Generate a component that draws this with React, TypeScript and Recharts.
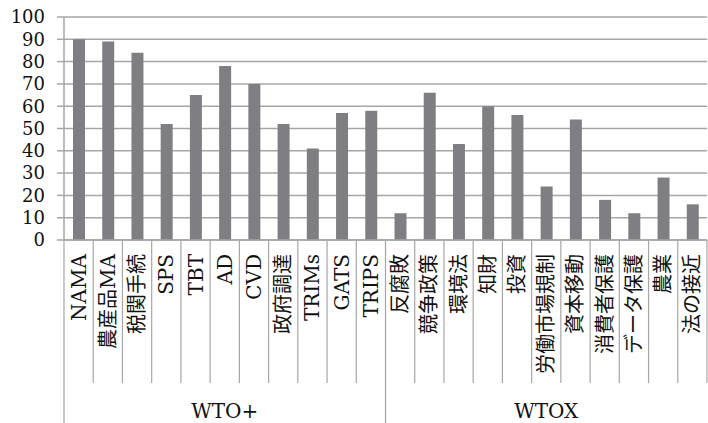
import React from 'react';
import { BarChart, Bar, XAxis, YAxis, CartesianGrid } from 'recharts';

const categories = [
  'NAMA', '農産品MA', '税関手続', 'SPS', 'TBT', 'AD', 'CVD', '政府調達', 'TRIMs', 'GATS', 'TRIPS',
  '反腐敗', '競争政策', '環境法', '知財', '投資', '労働市場規制', '資本移動', '消費者保護', 'データ保護', '農業', '法の接近',
];
const values = [90, 89, 84, 52, 65, 78, 70, 52, 41, 57, 58, 12, 66, 43, 60, 56, 24, 54, 18, 12, 28, 16];
const groups = [
  { name: 'WTO+', count: 11 },
  { name: 'WTOX', count: 11 },
];
const yTicks = [0, 10, 20, 30, 40, 50, 60, 70, 80, 90, 100];

const data = categories.map((name, i) => ({ name, value: values[i] }));

const W = 708;
const H = 423;
const LEFT = 64;
const RIGHT = 1;
const band = (W - LEFT - RIGHT) / categories.length;
const FONT = "'DejaVu Serif', 'Noto Sans CJK JP', serif";
const GRID = '#a6a6a6';

// group start index -> group
const groupStarts: Record<number, { name: string; count: number }> = {};
let acc = 0;
groups.forEach((g) => {
  groupStarts[acc] = g;
  acc += g.count;
});

function CatTick(props: any) {
  const { x, y, payload, index } = props;
  const left = x - band / 2;
  const g = groupStarts[index];
  const last = index === categories.length - 1;
  return (
    <g>
      <line x1={left} x2={left} y1={y} y2={g ? H : y + 143} stroke={GRID} strokeWidth={1.2} />
      {last && <line x1={x + band / 2} x2={x + band / 2} y1={y} y2={y + 143} stroke={GRID} strokeWidth={1.2} />}
      <text
        transform={`translate(${x},${y + 14}) rotate(-90)`}
        textAnchor="end"
        dy="0.35em"
        fontSize={20}
        fontFamily={FONT}
        fill="#111"
      >
        {payload.value}
      </text>
      {g && (
        <text
          x={left + (g.count * band) / 2}
          y={y + 178}
          textAnchor="middle"
          fontSize={20}
          fontFamily={FONT}
          fill="#111"
        >
          {g.name}
        </text>
      )}
    </g>
  );
}

export default function App() {
  return (
    <div style={{ position: 'absolute', left: 0, top: 0, background: '#fff' }}>
      <BarChart width={W} height={H} data={data} margin={{ top: 17, right: RIGHT, left: 0, bottom: 0 }} barCategoryGap={0}>
        <CartesianGrid vertical={false} stroke={GRID} strokeWidth={1.5} />
        <XAxis
          dataKey="name"
          interval={0}
          height={183}
          tickSize={0}
          tickMargin={0}
          tickLine={false}
          axisLine={{ stroke: GRID, strokeWidth: 1.5 }}
          tick={<CatTick />}
        />
        <YAxis
          width={LEFT}
          domain={[0, 100]}
          ticks={yTicks}
          interval={0}
          tickSize={7}
          tickMargin={12}
          axisLine={{ stroke: GRID, strokeWidth: 1.5 }}
          tickLine={{ stroke: GRID, strokeWidth: 1.5 }}
          tick={{ fill: '#111', fontSize: 18, fontFamily: FONT }}
        />
        <Bar dataKey="value" fill="#7f7f83" barSize={12} isAnimationActive={false} />
      </BarChart>
    </div>
  );
}
